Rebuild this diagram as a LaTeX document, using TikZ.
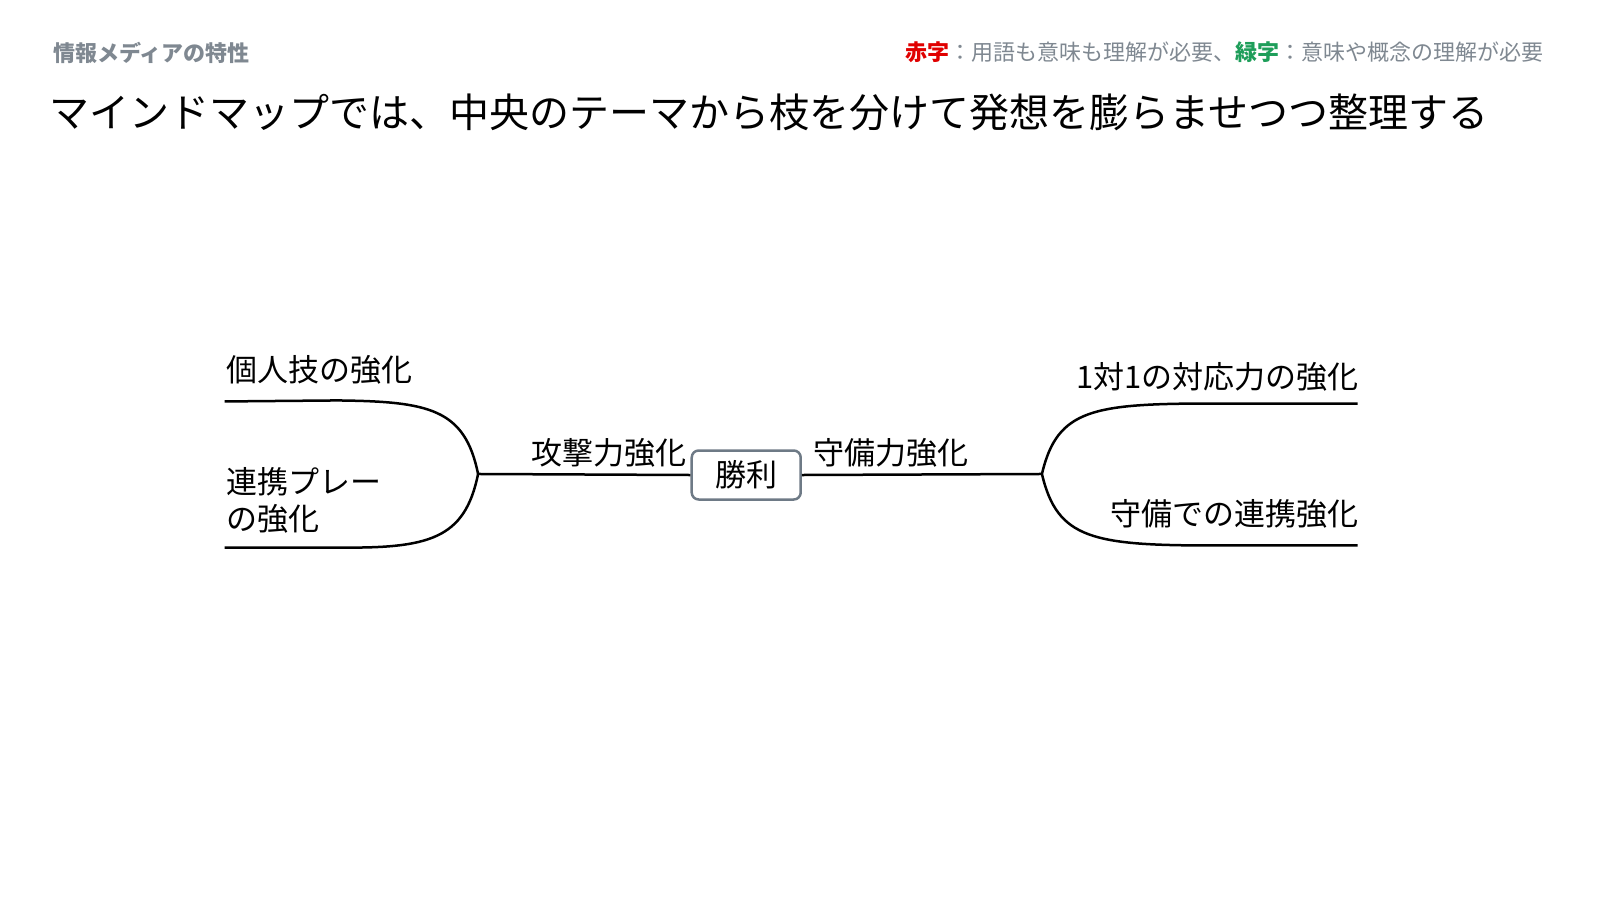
\documentclass[tikz,border=0pt]{standalone}
\usepackage{fontspec}
\setmainfont{Noto Sans CJK JP}
\definecolor{hdr}{HTML}{7F8891}
\definecolor{redt}{HTML}{E00000}
\definecolor{greent}{HTML}{1E9E5A}
\definecolor{boxb}{HTML}{6E7A86}
\begin{document}
\begin{tikzpicture}[x=1.0215pt,y=-1.0215pt,
  lbl/.style={font=\fontsize{31}{36}\selectfont, inner sep=0pt},
  branch/.style={line width=2.5pt, black}]
\useasboundingbox (0,0) rectangle (1566.3,881.1);
\node[anchor=west, inner sep=0pt, text=hdr, font=\fontsize{22}{26}\selectfont\bfseries] (hl) at (52,52) {情報メディアの特性};
\node[anchor=east, inner sep=0pt, text=hdr, font=\fontsize{22}{26}\selectfont] (hr) at (1511,51) {{\color{redt}\bfseries 赤字}：用語も意味も理解が必要、{\color{greent}\bfseries 緑字}：意味や概念の理解が必要};
\node[anchor=west, inner sep=0pt, font=\fontsize{40}{46}\selectfont] (title) at (48,110) {マインドマップでは、中央のテーマから枝を分けて発想を膨らませつつ整理する};
\node[draw=boxb, line width=2.5pt, rounded corners=7pt, minimum width=109pt, minimum height=49pt, lbl] (c) at (730.5,465) {勝利};
\coordinate (lj) at (468,464);
\coordinate (rj) at (1020,464);
\coordinate (l1) at (220,393);
\coordinate (l2) at (220,536);
\coordinate (r1) at (1329,395);
\coordinate (r2) at (1329,534);
\draw[branch] (c.west) -- (lj);
\draw[branch] (c.east) -- (rj);
\draw[branch] (lj) .. controls (455,400) and (420,393) .. (330,392) -- (l1);
\draw[branch] (lj) .. controls (455,528) and (420,537) .. (330,536) -- (l2);
\draw[branch] (rj) .. controls (1035,400) and (1070,395) .. (1190,395) -- (r1);
\draw[branch] (rj) .. controls (1035,528) and (1070,534) .. (1190,534) -- (r2);
\node[lbl] (a1) at (596,443) {攻撃力強化};
\node[lbl] (a2) at (872,443) {守備力強化};
\node[lbl, anchor=west] (t1) at (222,362) {個人技の強化};
\node[lbl, anchor=west, align=left, font=\fontsize{31}{37}\selectfont] (t2) at (222,490) {連携プレー\\の強化};
\node[lbl, anchor=east] (t3) at (1330,369) {1対1の対応力の強化};
\node[lbl, anchor=east] (t4) at (1330,503) {守備での連携強化};
\end{tikzpicture}
\end{document}
